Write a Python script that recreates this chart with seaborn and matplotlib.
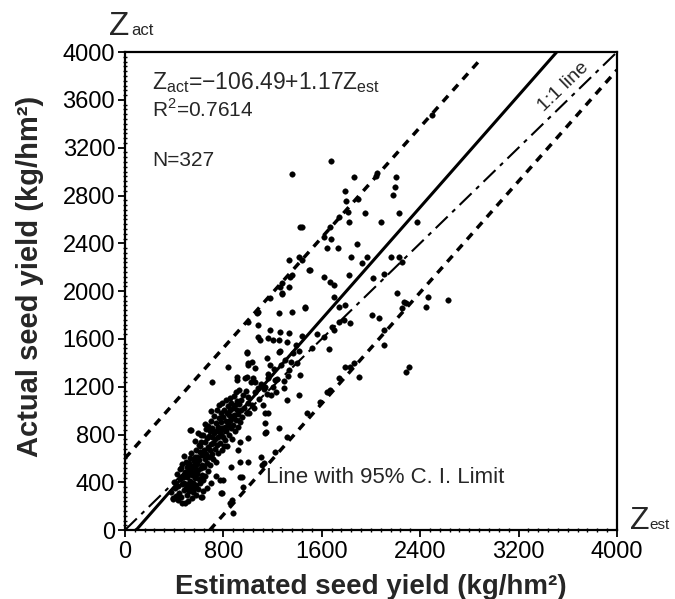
import matplotlib
matplotlib.use('Agg')
import matplotlib.pyplot as plt
from matplotlib.ticker import MultipleLocator, AutoMinorLocator
import pandas as pd
import seaborn as sns

# scatter points (estimated seed yield, actual seed yield), kg/hm2
cluster_pts = [
    (372, 318), (388, 262), (397, 401), (404, 349), (418, 287), (421, 466), (433, 371), (437, 309),
    (446, 512), (452, 428), (458, 276), (463, 382), (466, 553), (472, 441), (479, 333), (481, 397),
    (488, 489), (493, 356), (497, 571), (502, 447), (506, 295), (509, 528), (513, 382), (518, 467),
    (523, 331), (526, 607), (529, 411), (533, 497), (538, 362), (541, 642), (544, 458), (548, 531),
    (553, 397), (557, 317), (559, 486), (563, 579), (566, 352), (568, 529), (574, 434), (577, 672),
    (579, 381), (583, 553), (586, 472), (589, 611), (594, 342), (596, 507), (601, 709), (603, 428),
    (606, 583), (611, 656), (613, 391), (617, 517), (619, 741), (624, 463), (627, 628), (631, 548),
    (633, 792), (638, 416), (641, 671), (645, 527), (648, 598), (652, 737), (655, 455), (657, 843),
    (662, 634), (664, 561), (667, 767), (672, 698), (674, 494), (679, 871), (681, 613), (684, 786),
    (688, 673), (691, 548), (696, 829), (699, 717), (703, 911), (705, 636), (709, 781), (712, 858),
    (716, 597), (719, 727), (722, 953), (727, 812), (729, 676), (733, 761), (737, 896), (739, 571),
    (744, 826), (747, 1003), (751, 712), (754, 864), (758, 643), (761, 776), (764, 938), (768, 1047),
    (772, 817), (774, 728), (779, 906), (782, 978), (786, 667), (789, 851), (793, 1062), (797, 781),
    (799, 947), (803, 703), (807, 1003), (811, 861), (813, 757), (818, 1088), (822, 917), (825, 826),
    (829, 983), (833, 706), (836, 1041), (839, 883), (844, 966), (847, 796), (851, 1109), (853, 921),
    (858, 1007), (862, 857), (866, 1066), (868, 763), (873, 948), (877, 1018), (879, 883), (884, 1124),
    (888, 962), (893, 827), (896, 1047), (901, 918), (904, 1157), (908, 1004), (913, 1081), (917, 862),
    (921, 968), (926, 1052), (931, 1176), (938, 907), (943, 1006), (948, 1089), (956, 947), (963, 1133),
    (972, 1023), (981, 1168), (989, 979), (998, 1062),
    (431, 252), (468, 231), (512, 244), (547, 268), (582, 298), (634, 327), (667, 351), (702, 398),
    (741, 457), (523, 561), (571, 611), (483, 617), (612, 702), (566, 749), (648, 884), (702, 998),
]
lower_pts = [
    (392, 268), (490, 226), (620, 276), (457, 519), (473, 444), (539, 837), (596, 812), (528, 840),
    (620, 795), (784, 310), (776, 418), (800, 418), (939, 444), (963, 360), (1110, 611), (1127, 561),
    (1004, 569), (865, 527), (1004, 770), (939, 736), (1143, 979), (1151, 820), (1143, 1197), (1029, 1239),
    (623, 279), (868, 251), (854, 223), (882, 142), (936, 572), (950, 446), (922, 669), (1140, 893),
    (1249, 851), (1140, 809), (1167, 977), (1317, 781), (1113, 544), (1222, 655), (786, 307), (705, 1241),
    (841, 1367), (909, 1283), (909, 1255), (991, 1283), (1059, 1241), (991, 1479), (1004, 1395), (1072, 1813),
]
mid_pts = [
    (1181, 1939), (1276, 1981), (1086, 1827), (1249, 1813), (1358, 1827), (1467, 1855), (1004, 1743),
    (1086, 1715), (1181, 1674), (1263, 1660), (1331, 1646), (1086, 1618), (1100, 1590), (1167, 1604),
    (1208, 1590), (1249, 1590), (1317, 1576), (990, 1492), (1153, 1437), (1249, 1492), (1031, 1408),
    (1004, 1381), (1059, 1353), (977, 1269), (1045, 1269), (1167, 1269), (1222, 1255), (1208, 1199),
    (1290, 1186), (1317, 1088), (1412, 1130), (1480, 977), (1331, 1339), (1398, 1395), (1684, 1701),
    (1739, 1743), (1671, 1172), (1644, 1158), (1589, 1074), (1739, 1269), (1793, 1367),
    (1003, 1117), (1032, 1046), (1061, 1156), (1093, 1098), (1108, 1223), (1134, 1178), (1162, 1304),
    (1188, 1127), (1213, 1352), (1238, 1263), (1272, 1381), (1302, 1424), (1328, 1287), (1363, 1482),
    (1387, 1553), (1419, 1497), (1443, 1622), (1012, 983), (1048, 1021), (1079, 1193), (1121, 1047),
    (1152, 1139), (1183, 1378), (1231, 1152), (1262, 1503), (1292, 1248), (1351, 1403), (1422, 1302),
    (1518, 1523), (1562, 1638), (1619, 1617), (1661, 1518),
]
upper_pts = [
    (1355, 2980), (1679, 3090), (1420, 2536), (2498, 3473), (1861, 2957), (2052, 2985), (2040, 2960),
    (2201, 2957), (2196, 2873), (2180, 2803), (1793, 2839), (1798, 2756), (1896, 2767), (1951, 2656),
    (1815, 2664), (1820, 2580), (2079, 2580), (2229, 2650), (2378, 2580), (1739, 2622), (1671, 2538),
    (1616, 2454), (1679, 2433), (1644, 2357), (1733, 2357), (1890, 2393), (1439, 2538), (1842, 2287),
    (1970, 2282), (1929, 2237), (2161, 2282), (2229, 2282), (2256, 2245), (1508, 2176), (1439, 2259),
    (1616, 2120), (1671, 2078), (1698, 2050), (1820, 2134), (2016, 2106), (2106, 2142), (2460, 1952),
    (2215, 1981), (2269, 1910), (2623, 1925), (1698, 1952), (1793, 1883), (1467, 1868), (1698, 1674),
    (1780, 1757), (1834, 1730), (1739, 1869), (2011, 1799), (2065, 1771), (2106, 1674), (2106, 1548),
    (1902, 1283), (2286, 1322), (2310, 1364), (2283, 1897), (2256, 1855), (2447, 1869), (1834, 1367),
    (1861, 1395), (1331, 2259), (1412, 2287), (1500, 2176), (1358, 2134), (1344, 2120), (1276, 2064),
    (1263, 2036), (1331, 2031), (1276, 1975),
]

# regression and reference lines
intercept = -106.49
slope = 1.17
reg_x = [91, 3510]
one_x = [0, 4000]
ci_up_x = [0, 2870]
ci_up_y = [600, 3915]
ci_low_x = [690, 4000]
ci_low_y = [0, 3850]

pts = cluster_pts + lower_pts + mid_pts + upper_pts
df = pd.DataFrame(pts, columns=['est', 'act'])

sns.set_style('ticks')
plt.rcParams['font.family'] = ['Liberation Sans', 'DejaVu Sans']
plt.rcParams['mathtext.fontset'] = 'custom'
plt.rcParams['mathtext.rm'] = 'Liberation Sans'

fig = plt.figure(figsize=(6.75, 5.99), dpi=100)
ax = fig.add_axes([0.185, 0.115, 0.729, 0.798])

sns.scatterplot(data=df, x='est', y='act', ax=ax, color='black', s=16,
                marker='o', edgecolor='black', linewidth=0.3, zorder=3)

ax.plot(reg_x, [intercept + slope * v for v in reg_x], color='black', lw=2.2, zorder=2)
ax.plot(one_x, one_x, color='black', lw=1.5, dashes=(8, 3, 2, 3), zorder=2)
ax.plot(ci_up_x, ci_up_y, color='black', lw=2.5, dashes=(2.3, 2.0), zorder=2)
ax.plot(ci_low_x, ci_low_y, color='black', lw=2.5, dashes=(2.3, 2.0), zorder=2)

ax.set_xlim(0, 4000)
ax.set_ylim(0, 4000)
ax.xaxis.set_major_locator(MultipleLocator(800))
ax.yaxis.set_major_locator(MultipleLocator(400))
ax.xaxis.set_minor_locator(AutoMinorLocator(10))
ax.yaxis.set_minor_locator(AutoMinorLocator(10))
ax.tick_params(which='major', direction='out', length=5, width=1.3, labelsize=17, pad=2,
               colors='black')
ax.tick_params(axis='x', which='major', pad=3)
ax.tick_params(which='minor', direction='inout', length=3, width=1.0, colors='black')
for s in ax.spines.values():
    s.set_linewidth(1.6)
    s.set_color('black')

ax.set_xlabel('Estimated seed yield (kg/hm²)', fontsize=20, fontweight='bold', va='top')
ax.set_ylabel('Actual seed yield (kg/hm²)', fontsize=21, fontweight='bold')
ax.xaxis.set_label_coords(0.5, -0.092)
ax.yaxis.set_label_coords(-0.165, 0.53)

ax.text(0.055, 0.937, r'$\mathregular{Z_{act}}$=−106.49+1.17$\mathregular{Z_{est}}$',
        transform=ax.transAxes, fontsize=16.5, va='center', ha='left')
ax.text(0.055, 0.879, r'R$^2$=0.7614', transform=ax.transAxes, fontsize=15, va='center', ha='left')
ax.text(0.055, 0.774, 'N=327', transform=ax.transAxes, fontsize=15, va='center', ha='left')
ax.text(0.287, 0.111, 'Line with 95% C. I. Limit', transform=ax.transAxes, fontsize=16,
        va='center', ha='left')
ax.text(3567, 3707, '1:1 line', fontsize=14, rotation=44, rotation_mode='anchor',
        ha='center', va='center')

# axis end labels: large Z with small suffix on the same baseline
ax.text(-0.032, 1.036, 'Z', transform=ax.transAxes, fontsize=24,
        ha='left', va='baseline', clip_on=False)
ax.text(0.012, 1.036, 'act', transform=ax.transAxes, fontsize=12,
        ha='left', va='baseline', clip_on=False)
ax.text(1.026, 0.002, 'Z', transform=ax.transAxes, fontsize=23,
        ha='left', va='baseline', clip_on=False)
ax.text(1.066, 0.002, 'est', transform=ax.transAxes, fontsize=11,
        ha='left', va='baseline', clip_on=False)

fig.savefig('out.png', dpi=100)
